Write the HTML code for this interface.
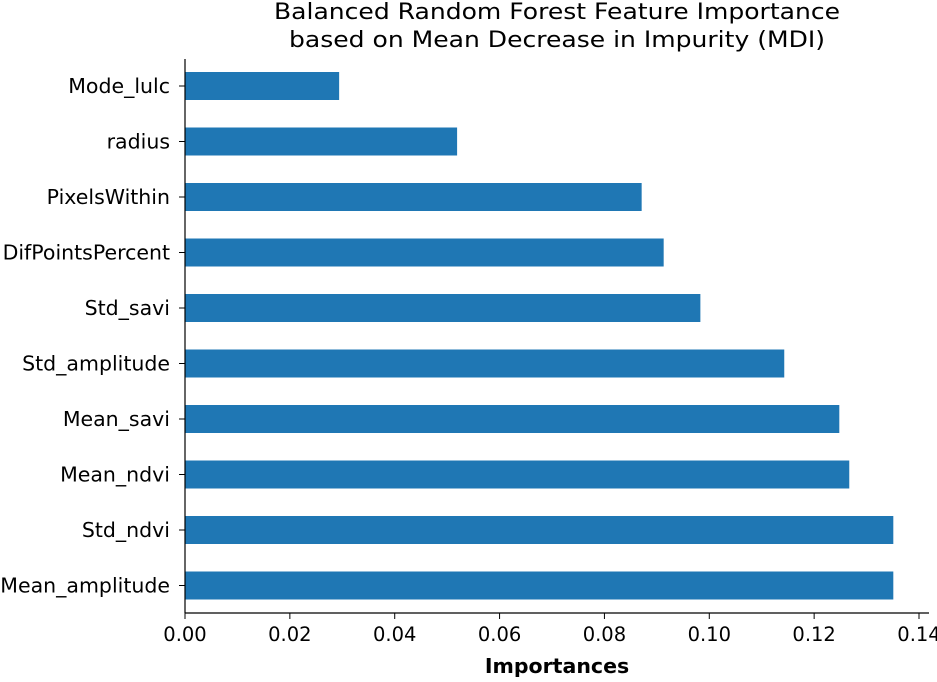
<!DOCTYPE html>
<html><head><meta charset="utf-8"><style>
body{margin:0;background:#fff;}
svg text{font-family:"DejaVu Sans","Liberation Sans",sans-serif;fill:#000;}
</style></head><body>
<svg id="chart" width="937" height="677" xmlns="http://www.w3.org/2000/svg">
<text x="557" y="19" text-anchor="middle" font-size="22" textLength="566" lengthAdjust="spacingAndGlyphs">Balanced Random Forest Feature Importance</text>
<text x="557" y="47" text-anchor="middle" font-size="22" textLength="536" lengthAdjust="spacingAndGlyphs">based on Mean Decrease in Impurity (MDI)</text>
<g id="bars"></g>
<g id="yticks"></g>
<g id="xticks"></g>
<line x1="185" y1="59" x2="185" y2="613" stroke="#000" stroke-width="1.2"/>
<line x1="185" y1="613" x2="929" y2="613" stroke="#000" stroke-width="1.2"/>
<text x="557" y="673" text-anchor="middle" font-size="20.5" font-weight="bold">Importances</text>
</svg>
<script>
const categories = ["Mode_lulc","radius","PixelsWithin","DifPointsPercent","Std_savi","Std_amplitude","Mean_savi","Mean_ndvi","Std_ndvi","Mean_amplitude"];
const importances = [0.0294,0.0519,0.0871,0.0913,0.0983,0.1143,0.1248,0.1267,0.1351,0.1351];
const xTickValues = [0,0.02,0.04,0.06,0.08,0.10,0.12,0.14];
const xTickLabels = ["0.00","0.02","0.04","0.06","0.08","0.10","0.12","0.14"];
const NS="http://www.w3.org/2000/svg";
function xScale(v){return 185+v*(919-185)/0.14;}
function yScale(i){return 86+i*55.5;}
const bars=document.getElementById('bars'),yt=document.getElementById('yticks'),xt=document.getElementById('xticks');
categories.forEach((c,i)=>{
  const r=document.createElementNS(NS,'rect');
  r.setAttribute('x',xScale(0));r.setAttribute('y',yScale(i)-14);
  r.setAttribute('width',xScale(importances[i])-xScale(0));r.setAttribute('height',28);
  r.setAttribute('fill','#1f77b4');
  
  
  bars.appendChild(r);
  const l=document.createElementNS(NS,'line');
  l.setAttribute('x1',179);l.setAttribute('x2',185);l.setAttribute('y1',yScale(i));l.setAttribute('y2',yScale(i));l.setAttribute('stroke','#000');
  
  
  yt.appendChild(l);
  const t=document.createElementNS(NS,'text');
  t.setAttribute('x',170);t.setAttribute('y',yScale(i)+7);t.setAttribute('text-anchor','end');t.setAttribute('font-size','20.5');
  t.textContent=c;
  
  
  yt.appendChild(t);
});
xTickValues.forEach((v,i)=>{
  const x=xScale(v);
  const l=document.createElementNS(NS,'line');
  l.setAttribute('x1',x);l.setAttribute('x2',x);l.setAttribute('y1',613);l.setAttribute('y2',619);l.setAttribute('stroke','#000');
  
  
  xt.appendChild(l);
  const t=document.createElementNS(NS,'text');
  t.setAttribute('x',x);t.setAttribute('y',641);t.setAttribute('text-anchor','middle');t.setAttribute('font-size','19.5');
  t.textContent=xTickLabels[i];
  
  
  xt.appendChild(t);
});
</script>
</body></html>
